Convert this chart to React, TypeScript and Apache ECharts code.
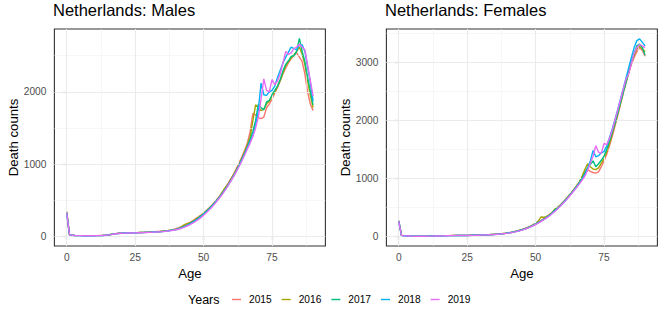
import React, { useEffect, useRef } from "react";
import * as echarts from "echarts";

const AGES = [
  0, 1, 2, 3, 4, 5, 6, 7, 8, 9, 10, 11, 12, 13, 14, 15, 16, 17, 18, 19, 20, 21, 22, 23, 24, 25, 26, 27, 28, 29,
  30, 31, 32, 33, 34, 35, 36, 37, 38, 39, 40, 41, 42, 43, 44, 45, 46, 47, 48, 49, 50, 51, 52, 53, 54, 55, 56, 57, 58, 59,
  60, 61, 62, 63, 64, 65, 66, 67, 68, 69, 70, 71, 72, 73, 74, 75, 76, 77, 78, 79, 80, 81, 82, 83, 84, 85, 86, 87, 88, 89, 90,
];

const YEARS = ["2015", "2016", "2017", "2018", "2019"];

const MALE_2015 = [
  345, 24, 15, 11, 9, 8, 8, 7, 7, 7,
  8, 8, 10, 12, 15, 19, 25, 31, 37, 42,
  44, 46, 47, 48, 49, 50, 51, 53, 54, 56,
  58, 60, 62, 65, 68, 72, 77, 82, 88, 95,
  104, 118, 133, 150, 175, 192, 215, 240, 265, 292,
  322, 355, 390, 428, 470, 515, 565, 618, 672, 735,
  800, 865, 940, 1020, 1100, 1190, 1290, 1450, 1700, 1680,
  1640, 1630, 1650, 1780, 1830, 1900, 1980, 2060, 2150, 2250,
  2330, 2400, 2460, 2500, 2540, 2480, 2420, 2250, 2000, 1830,
  1740,
];
const MALE_2016 = [
  335, 23, 14, 10, 9, 8, 7, 7, 7, 7,
  7, 8, 9, 11, 14, 18, 24, 30, 36, 41,
  43, 45, 46, 47, 48, 49, 50, 52, 53, 55,
  57, 59, 61, 63, 66, 70, 74, 79, 85, 92,
  100, 113, 135, 160, 175, 185, 208, 232, 258, 285,
  315, 350, 386, 424, 466, 510, 558, 620, 680, 725,
  790, 855, 925, 1000, 1080, 1170, 1265, 1370, 1600, 1820,
  1780, 1740, 1760, 1830, 1870, 1940, 2000, 2070, 2160, 2260,
  2360, 2420, 2470, 2510, 2560, 2620, 2520, 2380, 2150, 1950,
  1780,
];
const MALE_2017 = [
  330, 22, 14, 10, 9, 8, 7, 7, 6, 7,
  7, 8, 9, 11, 14, 18, 24, 30, 36, 40,
  43, 45, 46, 47, 48, 49, 50, 51, 52, 54,
  55, 57, 59, 61, 64, 67, 71, 76, 82, 88,
  96, 108, 122, 138, 155, 175, 198, 222, 250, 278,
  310, 345, 382, 420, 462, 505, 552, 602, 655, 712,
  775, 840, 910, 985, 1065, 1150, 1240, 1340, 1450, 1600,
  1830, 1780, 1750, 1860, 1880, 1960, 2020, 2080, 2170, 2290,
  2380, 2430, 2490, 2500, 2560, 2740, 2560, 2420, 2200, 2010,
  1820,
];
const MALE_2018 = [
  320, 21, 13, 10, 9, 8, 7, 6, 6, 6,
  7, 8, 9, 10, 13, 17, 23, 29, 35, 39,
  42, 44, 45, 46, 47, 48, 49, 50, 51, 53,
  54, 56, 58, 60, 62, 66, 70, 75, 80, 86,
  93, 104, 117, 132, 150, 170, 192, 216, 243, 272,
  302, 336, 372, 412, 455, 500, 548, 598, 652, 710,
  772, 835, 905, 980, 1058, 1140, 1225, 1310, 1400, 1540,
  1750, 2120, 1960, 1950, 2000, 2020, 2080, 2200, 2300, 2400,
  2480, 2550, 2620, 2600, 2580, 2650, 2650, 2560, 2350, 2130,
  1870,
];
const MALE_2019 = [
  325, 22, 14, 10, 9, 8, 7, 7, 6, 6,
  7, 7, 8, 10, 13, 17, 22, 28, 34, 38,
  41, 43, 44, 45, 46, 47, 48, 49, 50, 52,
  53, 55, 57, 59, 61, 64, 68, 73, 78, 84,
  90, 100, 112, 126, 142, 160, 181, 204, 230, 258,
  290, 325, 362, 402, 445, 492, 540, 590, 645, 705,
  768, 830, 898, 970, 1045, 1125, 1210, 1290, 1380, 1500,
  1650, 1900, 2180, 2020, 2000, 2170, 2100, 2150, 2250, 2400,
  2560, 2520, 2540, 2600, 2620, 2660, 2620, 2580, 2370, 2150,
  1940,
];

const FEMALE_2015 = [
  275, 19, 11, 8, 6, 5, 5, 5, 4, 4,
  5, 5, 6, 7, 8, 9, 11, 12, 14, 15,
  15, 16, 16, 17, 17, 18, 19, 20, 22, 23,
  25, 27, 29, 31, 34, 37, 41, 45, 50, 56,
  63, 72, 82, 93, 106, 120, 136, 154, 175, 198,
  224, 250, 278, 308, 340, 375, 412, 452, 495, 540,
  590, 640, 695, 752, 810, 872, 940, 1020, 1110, 1150,
  1120, 1100, 1090, 1110, 1200, 1300, 1420, 1560, 1720, 1900,
  2080, 2270, 2460, 2640, 2810, 2960, 3080, 3180, 3250, 3200,
  3100,
];
const FEMALE_2016 = [
  270, 18, 10, 8, 6, 5, 5, 4, 4, 4,
  5, 5, 6, 7, 7, 9, 10, 12, 13, 14,
  15, 15, 16, 16, 17, 17, 18, 19, 21, 22,
  24, 26, 28, 30, 33, 36, 40, 44, 49, 55,
  62, 70, 80, 91, 103, 117, 132, 150, 170, 193,
  225, 265, 335, 330, 340, 372, 410, 470, 500, 535,
  582, 635, 690, 748, 805, 868, 935, 1040, 1150, 1250,
  1200, 1160, 1150, 1180, 1260, 1340, 1460, 1600, 1760, 1930,
  2100, 2290, 2470, 2650, 2820, 2990, 3120, 3230, 3270, 3230,
  3180,
];
const FEMALE_2017 = [
  265, 18, 10, 8, 6, 5, 5, 4, 4, 4,
  5, 5, 6, 6, 7, 9, 10, 12, 13, 14,
  14, 15, 15, 16, 16, 17, 18, 19, 20, 22,
  23, 25, 27, 29, 32, 35, 38, 42, 47, 53,
  60, 68, 77, 88, 100, 113, 128, 145, 165, 188,
  212, 238, 265, 295, 328, 362, 400, 455, 482, 528,
  578, 630, 685, 742, 800, 860, 925, 1000, 1090, 1180,
  1240, 1300, 1200, 1250, 1310, 1380, 1500, 1640, 1790, 1950,
  2120, 2300, 2480, 2650, 2830, 3000, 3150, 3280, 3310, 3250,
  3120,
];
const FEMALE_2018 = [
  262, 17, 10, 7, 6, 5, 4, 4, 4, 4,
  4, 5, 5, 6, 7, 8, 10, 11, 13, 14,
  14, 15, 15, 16, 16, 17, 18, 19, 20, 21,
  23, 24, 26, 28, 31, 34, 37, 41, 46, 52,
  58, 66, 75, 86, 98, 112, 127, 144, 164, 186,
  210, 236, 263, 292, 324, 358, 396, 436, 478, 524,
  572, 622, 676, 732, 790, 850, 912, 985, 1070, 1170,
  1300, 1480, 1370, 1390, 1440, 1460, 1560, 1700, 1850, 2010,
  2180, 2360, 2540, 2720, 2900, 3080, 3250, 3370, 3400, 3340,
  3280,
];
const FEMALE_2019 = [
  260, 17, 10, 7, 6, 5, 4, 4, 4, 4,
  4, 5, 5, 6, 7, 8, 9, 11, 12, 13,
  14, 14, 15, 15, 16, 16, 17, 18, 19, 21,
  22, 24, 26, 28, 30, 33, 36, 40, 45, 50,
  56, 64, 73, 83, 95, 108, 123, 140, 160, 182,
  205, 230, 258, 287, 318, 352, 390, 430, 472, 518,
  566, 616, 670, 726, 785, 845, 905, 970, 1040, 1140,
  1260, 1380, 1560, 1450, 1430, 1600, 1580, 1690, 1830, 2000,
  2170, 2350, 2530, 2700, 2800, 2980, 3150, 3250, 3300, 3280,
  3250,
];

const MALES = [MALE_2015, MALE_2016, MALE_2017, MALE_2018, MALE_2019];
const FEMALES = [FEMALE_2015, FEMALE_2016, FEMALE_2017, FEMALE_2018, FEMALE_2019];

const X_TICKS = [0, 25, 50, 75];
const X_MINOR = [12.5, 37.5, 62.5, 87.5];
const Y_TICKS_M = [0, 1000, 2000];
const Y_MINOR_M = [500, 1500, 2500];
const Y_TICKS_F = [0, 1000, 2000, 3000];
const Y_MINOR_F = [500, 1500, 2500, 3500];

const COLORS = ["#F8766D", "#A3A500", "#00BF7D", "#00B0F6", "#E76BF3"];
const FONT = "'Liberation Sans', Arial, Helvetica, sans-serif";
const KEY_ICON = "path://M0,0M0,5.3L9,5.3L9,6.7L0,6.7ZM9,12";

function gridSeries(idx: number, xMajor: number[], xMinor: number[], yMajor: number[], yMinor: number[]) {
  const major = { color: "#EBEBEB", width: 1.1, type: "solid" };
  const minor = { color: "#F2F2F2", width: 0.6, type: "solid" };
  return {
    type: "line",
    name: "_grid" + idx,
    xAxisIndex: idx,
    yAxisIndex: idx,
    data: [],
    z: 1,
    silent: true,
    markLine: {
      silent: true,
      symbol: ["none", "none"],
      label: { show: false },
      animation: false,
      data: [
        ...xMinor.map((v) => ({ xAxis: v, lineStyle: minor })),
        ...yMinor.map((v) => ({ yAxis: v, lineStyle: minor })),
        ...xMajor.map((v) => ({ xAxis: v, lineStyle: major })),
        ...yMajor.map((v) => ({ yAxis: v, lineStyle: major })),
      ],
    },
  };
}

function xAxisDef(idx: number) {
  return {
    type: "value",
    gridIndex: idx,
    min: -4.5,
    max: 94.5,
    name: "Age",
    nameLocation: "middle",
    nameGap: 20,
    nameTextStyle: { fontSize: 13.2, color: "#000", fontFamily: FONT },
    axisLine: { show: false },
    axisTick: { show: true, length: 3.7, customValues: X_TICKS, lineStyle: { color: "#333333", width: 1.1 } },
    axisLabel: { customValues: X_TICKS, margin: 6, fontSize: 10.2, color: "#4D4D4D", fontFamily: FONT, formatter: (v: number) => String(v) },
    splitLine: { show: false },
  };
}

function yAxisDef(idx: number, min: number, max: number, ticks: number[]) {
  return {
    type: "value",
    gridIndex: idx,
    min,
    max,
    name: "Death counts",
    nameLocation: "middle",
    nameGap: 34,
    nameTextStyle: { fontSize: 13.2, color: "#000", fontFamily: FONT },
    axisLine: { show: false },
    axisTick: { show: true, length: 3.7, customValues: ticks, lineStyle: { color: "#333333", width: 1.1 } },
    axisLabel: { customValues: ticks, margin: 8, fontSize: 10.2, color: "#4D4D4D", fontFamily: FONT, formatter: (v: number) => String(v) },
    splitLine: { show: false },
  };
}

function dataSeries(idx: number, sets: number[][]) {
  return sets.map((vals, i) => ({
    type: "line",
    name: YEARS[i],
    xAxisIndex: idx,
    yAxisIndex: idx,
    data: AGES.map((a, j) => [a, vals[j]]),
    showSymbol: false,
    symbol: "none",
    z: 3 + i,
    color: COLORS[i],
    lineStyle: { width: 1.4, color: COLORS[i] },
  }));
}

export default function App() {
  const ref = useRef<HTMLDivElement>(null);
  useEffect(() => {
    const chart = echarts.init(ref.current!, null, { renderer: "svg" });
    const option: any = {
      animation: false,
      backgroundColor: "#FFFFFF",
      textStyle: { fontFamily: FONT },
      title: [
        { text: "Netherlands: Males", left: 53, top: 1, padding: 0, textStyle: { fontSize: 16.5, fontWeight: "normal", color: "#000", fontFamily: FONT } },
        { text: "Netherlands: Females", left: 385, top: 1, padding: 0, textStyle: { fontSize: 16.5, fontWeight: "normal", color: "#000", fontFamily: FONT } },
      ],
      grid: [
        { left: 54.4, top: 29, width: 271, height: 217, show: true, borderColor: "#333333", borderWidth: 1.1, backgroundColor: "#FFFFFF", containLabel: false },
        { left: 386.4, top: 29, width: 271, height: 217, show: true, borderColor: "#333333", borderWidth: 1.1, backgroundColor: "#FFFFFF", containLabel: false },
      ],
      xAxis: [xAxisDef(0), xAxisDef(1)],
      yAxis: [yAxisDef(0, -135, 2870, Y_TICKS_M), yAxisDef(1, -165, 3570, Y_TICKS_F)],
      legend: {
        data: YEARS.map((y, i) => ({ name: y, icon: KEY_ICON, itemStyle: { color: COLORS[i] } })),
        left: 232,
        top: 293.5,
        orient: "horizontal",
        itemWidth: 9,
        itemHeight: 12,
        itemGap: 10,
        padding: 0,
        selectedMode: false,
        textStyle: { fontSize: 10.2, color: "#000", fontFamily: FONT, padding: [0, 0, 0, 3] },
      },
      graphic: [
        { type: "text", x: 188, y: 299.5, style: { text: "Years", fontSize: 12.5, fill: "#000", fontFamily: FONT, verticalAlign: "middle" } },
      ],
      series: [
        gridSeries(0, X_TICKS, X_MINOR, Y_TICKS_M, Y_MINOR_M),
        gridSeries(1, X_TICKS, X_MINOR, Y_TICKS_F, Y_MINOR_F),
        ...dataSeries(0, MALES),
        ...dataSeries(1, FEMALES),
      ],
    };
    chart.setOption(option);
    return () => chart.dispose();
  }, []);
  return <div ref={ref} style={{ position: "absolute", left: 0, top: 0, width: 664, height: 313 }} />;
}
